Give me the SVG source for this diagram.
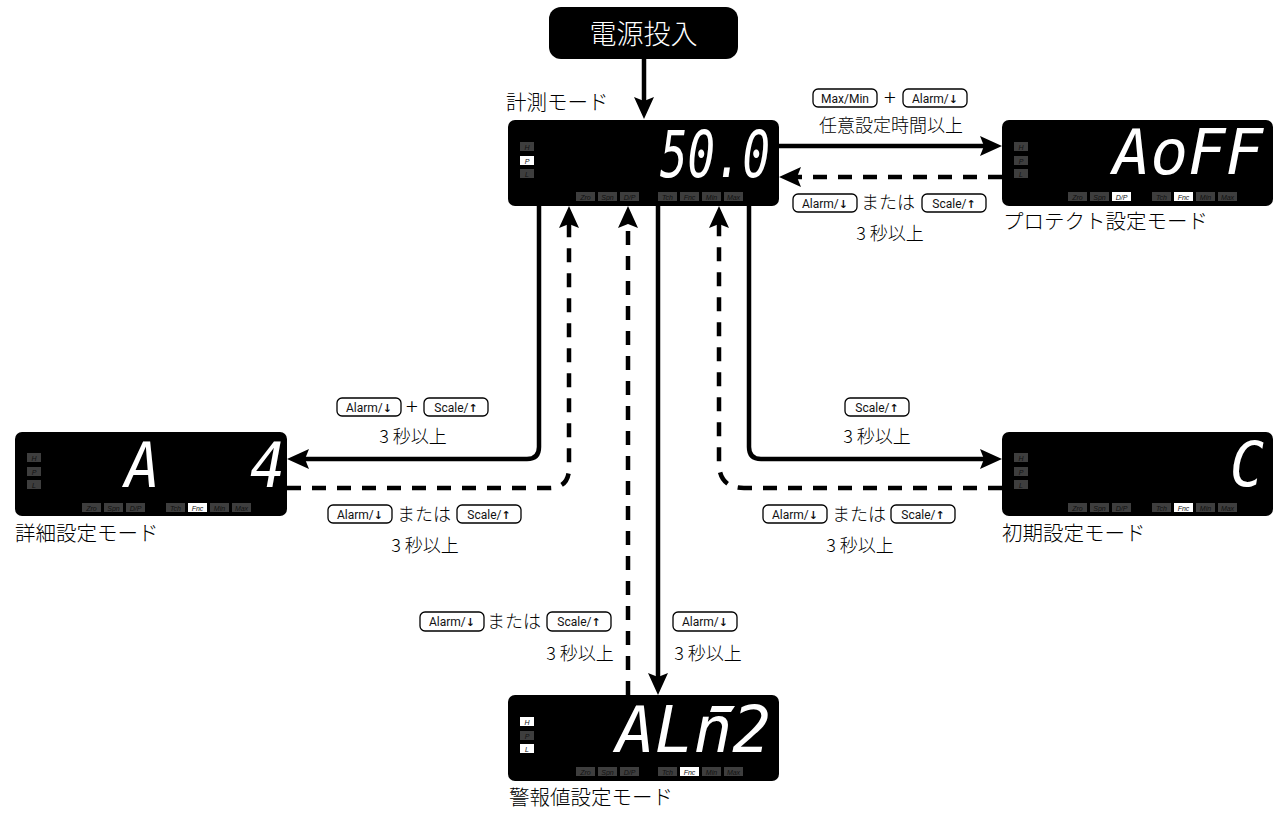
<svg xmlns="http://www.w3.org/2000/svg" width="1279" height="820" viewBox="0 0 1279 820">
<style>
.lcd{fill:#000}
.ind{fill:#3e3e3e}
.on{fill:#fff}
.it{font-family:"Liberation Sans",Arial,sans-serif;font-style:italic;font-size:7px;fill:#111;text-anchor:middle}
.dig{font-family:"DejaVu Sans Mono",monospace;font-style:oblique;fill:#fff}
.jp{font-family:"Noto Sans CJK JP",sans-serif;font-weight:300;fill:#000}
.mode{font-size:20.5px}
.cap{font-size:18px;text-anchor:middle}
.key rect{fill:#fff;stroke:#000;stroke-width:1.3}
.key text{font-family:Roboto,"Liberation Sans",sans-serif;font-size:12px;text-anchor:middle;fill:#111}
.key tspan{font-family:"DejaVu Sans",sans-serif;font-weight:bold;font-size:11px}
.plus{font-family:"Noto Sans CJK JP",sans-serif;font-weight:300;font-size:22px;text-anchor:middle}
.sol{fill:none;stroke:#000;stroke-width:4.5}
.dsh{fill:none;stroke:#000;stroke-width:4.5;stroke-dasharray:14 11}
</style>
<defs>
<marker id="ah" viewBox="0 -10 22 20" refX="10" refY="0" markerWidth="22" markerHeight="20" markerUnits="userSpaceOnUse" orient="auto">
<path d="M0,-10 L22,0 L0,10 L4,0 Z" fill="#000"/>
</marker>
</defs>

<g id="connectors">
<path class="sol" d="M644,59 V107" marker-end="url(#ah)"/>
<path class="sol" d="M779,146 H990" marker-end="url(#ah)"/>
<path class="dsh" d="M1002,177 H791" marker-end="url(#ah)"/>
<path class="sol" d="M539,206 V447 Q539,459 527,459 H299" marker-end="url(#ah)"/>
<path class="dsh" d="M287,488 H549 Q569,488 569,468 V218" marker-end="url(#ah)"/>
<path class="dsh" d="M628,695 V218" marker-end="url(#ah)"/>
<path class="sol" d="M658,206 V683" marker-end="url(#ah)"/>
<path class="sol" d="M749,206 V447 Q749,459 761,459 H990" marker-end="url(#ah)"/>
<path class="dsh" d="M1002,488 H744 Q719,488 719,463 V218" marker-end="url(#ah)"/>
</g>

<g id="power">
<rect x="549" y="7" width="189" height="52" rx="12" fill="#000"/>
<text x="643.5" y="44" font-family="Noto Sans CJK JP,sans-serif" font-weight="300" font-size="27" fill="#fff" text-anchor="middle">電源投入</text>
</g>

<g id="measure" transform="translate(508,120)">
<rect class="lcd" width="271" height="86" rx="7"/>
<rect class="ind" x="12" y="22" width="14" height="9"/><text class="it" x="19" y="29.5">H</text>
<rect class="on" x="12" y="36" width="14" height="9"/><text class="it" x="19" y="43.5">P</text>
<rect class="ind" x="12" y="49" width="14" height="9"/><text class="it" x="19" y="56.5">L</text>
<rect class="ind" x="68" y="72" width="19" height="9"/><text class="it" x="77.5" y="79.5">Zro</text>
<rect class="ind" x="90" y="72" width="19" height="9"/><text class="it" x="99.5" y="79.5">Spn</text>
<rect class="ind" x="112" y="72" width="19" height="9"/><text class="it" x="121.5" y="79.5">D/P</text>
<rect class="ind" x="150" y="72" width="19" height="9"/><text class="it" x="159.5" y="79.5">Tch</text>
<rect class="ind" x="172" y="72" width="19" height="9"/><text class="it" x="181.5" y="79.5">Fnc</text>
<rect class="ind" x="194" y="72" width="19" height="9"/><text class="it" x="203.5" y="79.5">Min</text>
<rect class="ind" x="216" y="72" width="19" height="9"/><text class="it" x="225.5" y="79.5">Max</text>
<text class="dig" x="152" y="57" font-size="64" textLength="110" lengthAdjust="spacingAndGlyphs">50.0</text>
</g>
<text class="jp mode" x="506" y="110">計測モード</text>

<g id="protect" transform="translate(1002,120)">
<rect class="lcd" width="271" height="86" rx="7"/>
<rect class="ind" x="12" y="22" width="14" height="9"/><text class="it" x="19" y="29.5">H</text>
<rect class="ind" x="12" y="36" width="14" height="9"/><text class="it" x="19" y="43.5">P</text>
<rect class="ind" x="12" y="49" width="14" height="9"/><text class="it" x="19" y="56.5">L</text>
<rect class="ind" x="66" y="72" width="19" height="9"/><text class="it" x="75.5" y="79.5">Zro</text>
<rect class="ind" x="88" y="72" width="19" height="9"/><text class="it" x="97.5" y="79.5">Spn</text>
<rect class="on" x="110" y="72" width="19" height="9"/><text class="it" x="119.5" y="79.5">D/P</text>
<rect class="ind" x="150" y="72" width="19" height="9"/><text class="it" x="159.5" y="79.5">Tch</text>
<rect class="on" x="172" y="72" width="19" height="9"/><text class="it" x="181.5" y="79.5">Fnc</text>
<rect class="ind" x="194" y="72" width="19" height="9"/><text class="it" x="203.5" y="79.5">Min</text>
<rect class="ind" x="216" y="72" width="19" height="9"/><text class="it" x="225.5" y="79.5">Max</text>
<text class="dig" x="111" y="54" font-size="62" textLength="150" lengthAdjust="spacingAndGlyphs">AoFF</text>
</g>
<text class="jp mode" x="1003" y="229">プロテクト設定モード</text>

<g id="detail" transform="translate(15,432)">
<rect class="lcd" width="272" height="84" rx="7"/>
<rect class="ind" x="12" y="21" width="14" height="9"/><text class="it" x="19" y="28.5">H</text>
<rect class="ind" x="12" y="35" width="14" height="9"/><text class="it" x="19" y="42.5">P</text>
<rect class="ind" x="12" y="48" width="14" height="9"/><text class="it" x="19" y="55.5">L</text>
<rect class="ind" x="67" y="71" width="19" height="9"/><text class="it" x="76.5" y="78.5">Zro</text>
<rect class="ind" x="89" y="71" width="19" height="9"/><text class="it" x="98.5" y="78.5">Spn</text>
<rect class="ind" x="111" y="71" width="19" height="9"/><text class="it" x="120.5" y="78.5">D/P</text>
<rect class="ind" x="151" y="71" width="19" height="9"/><text class="it" x="160.5" y="78.5">Tch</text>
<rect class="on" x="173" y="71" width="19" height="9"/><text class="it" x="182.5" y="78.5">Fnc</text>
<rect class="ind" x="195" y="71" width="19" height="9"/><text class="it" x="204.5" y="78.5">Min</text>
<rect class="ind" x="217" y="71" width="19" height="9"/><text class="it" x="226.5" y="78.5">Max</text>
<text class="dig" x="110" y="55" font-size="62" textLength="35" lengthAdjust="spacingAndGlyphs">A</text>
<text class="dig" x="235" y="55" font-size="62" textLength="35" lengthAdjust="spacingAndGlyphs">4</text>
</g>
<text class="jp mode" x="15" y="541">詳細設定モード</text>

<g id="initial" transform="translate(1002,432)">
<rect class="lcd" width="271" height="84" rx="7"/>
<rect class="ind" x="12" y="21" width="14" height="9"/><text class="it" x="19" y="28.5">H</text>
<rect class="ind" x="12" y="35" width="14" height="9"/><text class="it" x="19" y="42.5">P</text>
<rect class="ind" x="12" y="48" width="14" height="9"/><text class="it" x="19" y="55.5">L</text>
<rect class="ind" x="66" y="71" width="19" height="9"/><text class="it" x="75.5" y="78.5">Zro</text>
<rect class="ind" x="88" y="71" width="19" height="9"/><text class="it" x="97.5" y="78.5">Spn</text>
<rect class="ind" x="110" y="71" width="19" height="9"/><text class="it" x="119.5" y="78.5">D/P</text>
<rect class="ind" x="150" y="71" width="19" height="9"/><text class="it" x="159.5" y="78.5">Tch</text>
<rect class="on" x="172" y="71" width="19" height="9"/><text class="it" x="181.5" y="78.5">Fnc</text>
<rect class="ind" x="194" y="71" width="19" height="9"/><text class="it" x="203.5" y="78.5">Min</text>
<rect class="ind" x="216" y="71" width="19" height="9"/><text class="it" x="225.5" y="78.5">Max</text>
<text class="dig" x="228" y="54" font-size="62" textLength="34" lengthAdjust="spacingAndGlyphs">C</text>
</g>
<text class="jp mode" x="1002" y="541">初期設定モード</text>

<g id="alarm" transform="translate(508,695)">
<rect class="lcd" width="271" height="86" rx="7"/>
<rect class="on" x="12" y="22" width="14" height="9"/><text class="it" x="19" y="29.5">H</text>
<rect class="ind" x="12" y="36" width="14" height="9"/><text class="it" x="19" y="43.5">P</text>
<rect class="on" x="12" y="49" width="14" height="9"/><text class="it" x="19" y="56.5">L</text>
<rect class="ind" x="68" y="72" width="19" height="9"/><text class="it" x="77.5" y="79.5">Zro</text>
<rect class="ind" x="90" y="72" width="19" height="9"/><text class="it" x="99.5" y="79.5">Spn</text>
<rect class="ind" x="112" y="72" width="19" height="9"/><text class="it" x="121.5" y="79.5">D/P</text>
<rect class="ind" x="150" y="72" width="19" height="9"/><text class="it" x="159.5" y="79.5">Tch</text>
<rect class="on" x="172" y="72" width="19" height="9"/><text class="it" x="181.5" y="79.5">Fnc</text>
<rect class="ind" x="194" y="72" width="19" height="9"/><text class="it" x="203.5" y="79.5">Min</text>
<rect class="ind" x="216" y="72" width="19" height="9"/><text class="it" x="225.5" y="79.5">Max</text>
<text class="dig" x="108" y="57" font-size="64" textLength="155" lengthAdjust="spacingAndGlyphs">ALn2</text>
<polygon points="204,11 227,11 223,17 202,17" fill="#fff"/>
</g>
<text class="jp mode" x="509" y="805">警報値設定モード</text>

<g id="label-protect-in">
<g class="key"><rect x="813" y="89" width="64" height="18" rx="5"/><text x="845" y="102.5">Max/Min</text></g>
<text class="plus" x="890" y="106">+</text>
<g class="key"><rect x="903" y="89" width="64" height="18" rx="5"/><text x="935" y="102.5">Alarm/<tspan>↓</tspan></text></g>
<text class="jp cap" x="891" y="132">任意設定時間以上</text>
</g>
<g id="label-protect-out">
<g class="key"><rect x="793" y="194" width="64" height="18" rx="5"/><text x="825" y="207.5">Alarm/<tspan>↓</tspan></text></g>
<text class="jp cap" x="888" y="209">または</text>
<g class="key"><rect x="922" y="194" width="64" height="18" rx="5"/><text x="954" y="207.5">Scale/<tspan>↑</tspan></text></g>
<text class="jp cap" x="890" y="240">3 秒以上</text>
</g>
<g id="label-detail-in">
<g class="key"><rect x="337" y="398" width="64" height="18" rx="5"/><text x="369" y="411.5">Alarm/<tspan>↓</tspan></text></g>
<text class="plus" x="412" y="415">+</text>
<g class="key"><rect x="424" y="398" width="64" height="18" rx="5"/><text x="456" y="411.5">Scale/<tspan>↑</tspan></text></g>
<text class="jp cap" x="413" y="443">3 秒以上</text>
</g>
<g id="label-detail-out">
<g class="key"><rect x="328" y="505" width="64" height="18" rx="5"/><text x="360" y="518.5">Alarm/<tspan>↓</tspan></text></g>
<text class="jp cap" x="424" y="521">または</text>
<g class="key"><rect x="457" y="505" width="64" height="18" rx="5"/><text x="489" y="518.5">Scale/<tspan>↑</tspan></text></g>
<text class="jp cap" x="425" y="552">3 秒以上</text>
</g>
<g id="label-initial-in">
<g class="key"><rect x="845" y="398" width="64" height="18" rx="5"/><text x="877" y="411.5">Scale/<tspan>↑</tspan></text></g>
<text class="jp cap" x="877" y="443">3 秒以上</text>
</g>
<g id="label-initial-out">
<g class="key"><rect x="763" y="505" width="64" height="18" rx="5"/><text x="795" y="518.5">Alarm/<tspan>↓</tspan></text></g>
<text class="jp cap" x="859" y="521">または</text>
<g class="key"><rect x="891" y="505" width="64" height="18" rx="5"/><text x="923" y="518.5">Scale/<tspan>↑</tspan></text></g>
<text class="jp cap" x="860" y="552">3 秒以上</text>
</g>
<g id="label-alarm-out">
<g class="key"><rect x="420" y="612" width="64" height="19" rx="5"/><text x="452" y="626">Alarm/<tspan>↓</tspan></text></g>
<text class="jp cap" x="514" y="628">または</text>
<g class="key"><rect x="547" y="612" width="64" height="19" rx="5"/><text x="579" y="626">Scale/<tspan>↑</tspan></text></g>
<text class="jp cap" x="580" y="660">3 秒以上</text>
</g>
<g id="label-alarm-in">
<g class="key"><rect x="673" y="612" width="64" height="19" rx="5"/><text x="705" y="626">Alarm/<tspan>↓</tspan></text></g>
<text class="jp cap" x="708" y="660">3 秒以上</text>
</g>
</svg>
